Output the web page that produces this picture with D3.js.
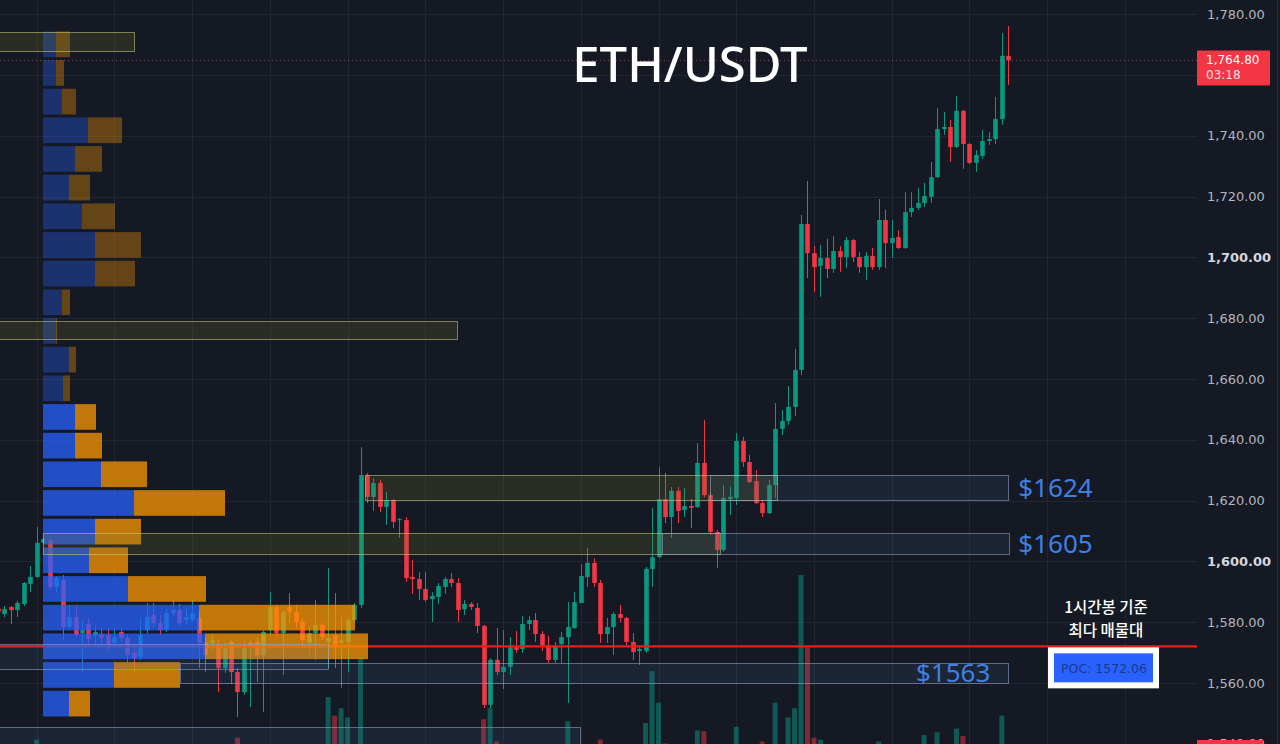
<!DOCTYPE html>
<html>
<head>
<meta charset="utf-8">
<script src="https://cdn.jsdelivr.net/npm/d3@7"></script>
<style>
html, body { margin: 0; padding: 0; background: #151924; overflow: hidden; }
svg { display: block; }
</style>
</head>
<body>
<svg id="chart" width="1280" height="744"></svg>
<script>
// 1h ETH/USDT candles, oldest first
var opens = [1584.5,1582.7,1585.0,1584.0,1586.0,1592.6,1594.9,1606.1,1607.0,1591.6,
  1593.9,1578.4,1581.7,1576.4,1579.4,1575.5,1576.1,1575.8,1573.2,1576.8,
  1574.8,1569.9,1568.6,1577.4,1582.4,1579.7,1577.4,1583.0,1584.0,1580.7,
  1580.7,1581.4,1573.2,1573.2,1572.5,1564.9,1573.5,1563.6,1557.0,1572.5,
  1573.5,1569.2,1577.4,1585.0,1576.4,1585.0,1583.4,1580.1,1573.2,1576.4,
  1579.1,1573.5,1575.8,1573.2,1573.5,1580.7,1585.7,1628.4,1621.2,1625.8,
  1617.9,1620.2,1613.6,1613.6,1594.9,1594.2,1590.9,1587.6,1588.3,1591.6,
  1594.2,1592.9,1584.3,1586.0,1584.7,1578.8,1552.8,1567.6,1563.6,1565.3,
  1571.8,1571.2,1579.4,1580.7,1576.1,1572.5,1567.6,1572.8,1575.1,1578.1,
  1586.3,1594.9,1599.5,1592.9,1576.1,1578.4,1582.7,1581.4,1573.5,1570.5,
  1570.5,1597.5,1601.4,1620.5,1614.6,1623.2,1616.9,1618.2,1617.9,1632.4,
  1621.8,1609.7,1603.8,1620.5,1620.9,1639.6,1632.7,1626.4,1619.2,1615.9,
  1625.1,1643.6,1646.2,1650.8,1663.0,1711.0,1701.4,1697.2,1699.8,1696.2,
  1702.1,1700.1,1705.7,1700.1,1696.8,1700.5,1696.8,1712.3,1704.7,1706.7,
  1703.1,1714.9,1716.3,1717.9,1719.9,1726.4,1742.2,1742.9,1736.3,1748.2,
  1737.3,1731.1,1733.4,1738.3,1738.9,1745.5,1766.3];
var highs = [1585.5,1585.3,1585.3,1587.0,1593.2,1598.5,1611.3,1608.0,1608.0,1595.2,
  1595.5,1585.7,1585.7,1580.7,1581.4,1579.1,1578.1,1578.1,1578.1,1578.1,
  1575.8,1572.5,1581.4,1586.3,1586.3,1582.4,1584.7,1587.3,1586.0,1585.0,
  1587.3,1583.4,1575.1,1575.8,1574.1,1573.5,1574.1,1564.9,1573.8,1574.1,
  1574.8,1577.4,1589.9,1585.7,1584.0,1589.6,1585.7,1581.4,1578.4,1587.3,
  1579.7,1597.8,1589.6,1581.7,1581.4,1586.3,1637.6,1629.1,1627.4,1626.8,
  1622.8,1620.5,1614.3,1614.6,1600.5,1596.5,1596.5,1589.9,1592.9,1594.9,
  1596.2,1594.5,1587.3,1586.6,1586.3,1579.1,1568.2,1578.1,1577.4,1575.1,
  1577.1,1582.0,1582.0,1583.0,1577.1,1575.5,1573.5,1576.8,1586.6,1589.9,
  1599.1,1604.4,1601.1,1593.9,1581.4,1583.4,1585.7,1581.7,1576.4,1571.8,
  1598.2,1617.6,1631.1,1629.1,1624.5,1624.5,1624.1,1620.5,1638.9,1646.5,
  1622.5,1610.3,1625.1,1624.5,1642.2,1640.9,1635.0,1630.1,1620.2,1626.8,
  1652.1,1649.8,1657.7,1669.9,1714.0,1725.1,1703.8,1704.1,1706.1,1707.0,
  1703.8,1706.7,1706.1,1701.8,1701.8,1703.1,1719.2,1715.6,1712.3,1709.0,
  1721.5,1721.5,1722.8,1724.5,1731.4,1749.1,1747.8,1745.2,1753.1,1748.5,
  1737.6,1735.3,1741.9,1741.2,1752.8,1773.8,1776.1];
var lows = [1582.5,1581.7,1579.4,1581.7,1585.3,1589.9,1594.6,1605.7,1590.6,1589.9,
  1574.1,1577.4,1575.1,1563.6,1572.5,1572.5,1571.5,1570.9,1571.5,1573.5,
  1566.9,1563.3,1567.6,1576.4,1578.1,1575.8,1576.8,1582.0,1578.8,1579.1,
  1580.1,1564.9,1563.6,1570.9,1557.0,1563.3,1559.7,1548.8,1556.1,1552.1,
  1560.3,1550.5,1575.8,1575.5,1562.6,1579.7,1578.1,1571.8,1569.2,1567.6,
  1574.1,1564.9,1564.9,1558.4,1563.6,1580.1,1584.7,1619.2,1616.6,1616.3,
  1612.0,1611.0,1607.7,1593.2,1589.3,1587.3,1586.6,1580.1,1586.0,1589.3,
  1591.6,1580.1,1582.4,1584.0,1576.4,1551.8,1551.8,1562.6,1558.0,1562.6,
  1569.9,1569.9,1577.4,1573.5,1570.5,1566.6,1566.6,1566.6,1553.4,1577.8,
  1586.3,1591.6,1591.6,1573.2,1573.2,1569.2,1580.1,1572.5,1567.6,1565.9,
  1569.9,1591.6,1601.1,1612.6,1607.7,1612.6,1614.6,1611.0,1617.6,1621.2,
  1608.7,1597.8,1603.1,1615.3,1618.6,1631.1,1625.8,1618.9,1614.6,1615.6,
  1620.9,1641.6,1644.9,1647.8,1661.3,1693.2,1688.6,1687.0,1693.2,1694.9,
  1695.2,1696.5,1698.5,1694.9,1692.6,1695.9,1695.9,1696.5,1699.8,1702.8,
  1702.8,1713.3,1715.6,1716.6,1717.9,1726.1,1740.3,1731.4,1736.0,1729.1,
  1730.7,1728.1,1732.4,1737.0,1737.3,1743.6,1756.7];
var closes = [1583.5,1584.3,1584.0,1586.3,1592.9,1594.9,1606.1,1607.4,1591.6,1594.5,
  1578.4,1581.7,1575.8,1577.4,1574.5,1576.8,1574.8,1572.5,1575.1,1574.8,
  1569.2,1568.2,1575.8,1581.7,1579.7,1577.4,1583.0,1584.0,1579.7,1581.7,
  1583.0,1573.2,1569.2,1574.1,1564.9,1571.5,1563.6,1557.0,1571.5,1573.2,
  1569.2,1576.8,1585.0,1576.4,1583.4,1583.4,1580.1,1574.1,1576.4,1579.1,
  1575.1,1574.8,1571.8,1574.1,1580.7,1585.7,1628.4,1621.2,1625.8,1617.9,
  1620.2,1613.0,1613.9,1594.5,1594.2,1590.9,1587.3,1588.6,1591.9,1594.2,
  1592.9,1584.0,1586.0,1585.0,1578.8,1552.8,1567.6,1563.6,1565.3,1571.8,
  1570.9,1579.4,1580.7,1576.1,1572.5,1567.6,1572.2,1575.1,1578.4,1586.6,
  1595.2,1599.5,1592.9,1576.1,1578.4,1582.7,1581.4,1573.5,1570.2,1571.2,
  1597.5,1601.4,1620.5,1614.6,1623.2,1616.6,1618.2,1617.6,1632.4,1621.8,
  1609.7,1603.8,1620.9,1621.2,1639.6,1632.7,1626.1,1619.2,1615.9,1625.1,
  1643.6,1646.2,1650.8,1663.0,1711.0,1701.4,1696.8,1699.8,1696.2,1702.1,
  1700.1,1705.7,1700.1,1696.8,1700.5,1696.8,1712.3,1704.7,1706.4,1703.1,
  1714.9,1716.3,1717.9,1720.2,1726.4,1742.2,1742.9,1736.3,1748.2,1737.3,
  1731.1,1733.7,1738.3,1738.9,1745.5,1766.3,1764.8];
var volumes = [6,5,4,6,7,6,11,5,7,6,
  7,5,6,4,5,3,4,5,4,3,
  5,4,6,5,4,3,5,4,5,3,
  4,7,6,3,7,5,6,12,7,8,
  5,8,7,6,7,5,4,6,4,7,
  5,34,24,28,23,6,55,8,6,7,
  5,6,4,8,5,6,5,7,4,5,
  3,6,4,3,5,22,28,10,8,6,
  5,7,4,5,6,7,5,6,21,7,
  8,7,6,11,6,7,4,6,5,4,
  20,48,31,9,7,6,4,5,16,15.5,
  7,8,6,4,18,6,5,7,10,6,
  31,7,23,28,100,61,12,11,8,7,
  6,7,5,6,5,4,10,8,5,4,
  7,6,5,13.5,8,15,6,7,17,13,
  6,5,7,4,8,24,6];

// volume profile, rows from the bottom (buy / sell, thousands)
var profileBase = 1548.5, profileStep = 9.43;
var profileUp   = [2.6,7.1,16.2,15.6,8.5,4.6,5.2,9.1,5.8,3.2,3.2,2.0,2.6,1.3,1.9,5.2,5.2,3.9,2.6,3.2,4.5,1.9,1.3,1.3];
var profileDown = [2.1,6.6,16.3,15.6,7.8,3.9,4.6,9.1,4.6,2.7,2.1,0.7,0.7,0.1,0.8,4.0,4.6,3.3,2.1,2.7,3.4,1.4,0.8,1.4];
var valueAreaLow = 0, valueAreaHigh = 10;
var poc = 1572.06;
var lastPrice = 1764.80, countdown = "03:18";

// zones: price range and candle span
var zoneHigh = [1774.1, 1679.1, 1628.4, 1609.3, 1628.4, 1609.3, 1572.7, 1566.6, 1545.5];
var zoneLow  = [1767.9, 1673.2, 1620.2, 1602.4, 1620.2, 1602.4, 1564.5, 1560.0, 1534.0];
var zoneFrom = [-1, -1, 56.7, 7, 110, 102.5, -1, 28.1, -1];
var zoneTo   = [21, 71, 120.3, 111.5, 156, 156, 51, 156, 90];
var zoneKind = ["y", "y", "y", "y", "b", "b", "b", "b", "b"];
var zoneLabels = ["$1624", "$1605", "$1563"];
var zoneLabelFor = [4, 5, 7];

var priceTicks = [1540,1560,1580,1600,1620,1640,1660,1680,1700,1720,1740,1760,1780];
var hiddenTicks = [1760];   // covered by the last price tag
var boldTicks = [1600, 1700];
var timeGrid = [6,18,30,42,54,66,78,90,102,114,126,138,150,162,174];

var W = 1280, H = 744, plotRight = 1197;
var upColor = "#089981", downColor = "#f23645";

var svg = d3.select("#chart");
var x = d3.scaleLinear().domain([0, opens.length - 1]).range([-2.2, 1008.3]);
var y = d3.scaleLinear().domain([1560, 1780]).range([683, 14.2]);
var yVol = d3.scaleLinear().domain([0, 100]).range([760, 575]);
var wProf = d3.scaleLinear().domain([0, 32.5]).range([0, 325]);
var profX = 43;
var fmt = d3.format(",.2f");

var bars = opens.map(function(o, i) {
  return {i: i, o: o, h: highs[i], l: lows[i], c: closes[i], v: volumes[i], up: closes[i] >= o};
});

svg.append("rect").attr("width", W).attr("height", H).attr("fill", "#151924");
svg.append("defs").append("clipPath").attr("id", "plotclip")
  .append("rect").attr("x", 0).attr("y", 0).attr("width", plotRight).attr("height", H);
var plot = svg.append("g").attr("clip-path", "url(#plotclip)");

// grid
plot.append("g").selectAll("line").data(priceTicks).enter().append("line")
  .attr("x1", 0).attr("x2", plotRight)
  .attr("y1", function(d) { return Math.round(y(d)) + 0.5; })
  .attr("y2", function(d) { return Math.round(y(d)) + 0.5; })
  .attr("stroke", "#222632");
plot.append("g").selectAll("line").data(timeGrid).enter().append("line")
  .attr("y1", 0).attr("y2", H)
  .attr("x1", function(d) { return Math.round(x(d)) + 0.5; })
  .attr("x2", function(d) { return Math.round(x(d)) + 0.5; })
  .attr("stroke", "#222632");

// volume
plot.append("g").selectAll("rect").data(bars).enter().append("rect")
  .attr("x", function(d) { return x(d.i) - 2.5; })
  .attr("width", 5)
  .attr("y", function(d) { return yVol(d.v); })
  .attr("height", function(d) { return yVol(0) - yVol(d.v); })
  .attr("fill", function(d) { return d.up ? upColor : downColor; })
  .attr("fill-opacity", 0.5);

// candles
var candle = plot.append("g").selectAll("g").data(bars).enter().append("g");
candle.append("line")
  .attr("x1", function(d) { return Math.round(x(d.i)) + 0.5; })
  .attr("x2", function(d) { return Math.round(x(d.i)) + 0.5; })
  .attr("y1", function(d) { return y(d.h); })
  .attr("y2", function(d) { return y(d.l); })
  .attr("stroke", function(d) { return d.up ? upColor : downColor; });
candle.append("rect")
  .attr("x", function(d) { return Math.round(x(d.i)) - 1.8; })
  .attr("width", 4.6)
  .attr("y", function(d) { return y(Math.max(d.o, d.c)); })
  .attr("height", function(d) { return Math.max(1, Math.abs(y(d.o) - y(d.c))); })
  .attr("fill", function(d) { return d.up ? upColor : downColor; });

// POC and last price lines
plot.append("line").attr("x1", 0).attr("x2", plotRight)
  .attr("y1", y(poc)).attr("y2", y(poc))
  .attr("stroke", "#e61f1c").attr("stroke-width", 2.2);
plot.append("line").attr("x1", 0).attr("x2", plotRight)
  .attr("y1", Math.round(y(lastPrice)) + 0.5).attr("y2", Math.round(y(lastPrice)) + 0.5)
  .attr("stroke", "#e0707a").attr("stroke-opacity", 0.55).attr("stroke-dasharray", "1,3");

// volume profile
var rows = profileUp.map(function(u, k) {
  return {k: k, up: u, down: profileDown[k], lo: profileBase + k * profileStep, hi: profileBase + (k + 1) * profileStep,
    inVA: k >= valueAreaLow && k <= valueAreaHigh};
});
var prow = plot.append("g").selectAll("g").data(rows).enter().append("g")
  .attr("opacity", function(d) { return d.inVA ? 0.74 : 0.34; });
prow.append("rect")
  .attr("x", profX)
  .attr("y", function(d) { return y(d.hi) + 1.5; })
  .attr("width", function(d) { return wProf(d.up); })
  .attr("height", function(d) { return y(d.lo) - y(d.hi) - 3; })
  .attr("fill", "#2962ff");
prow.append("rect")
  .attr("x", function(d) { return profX + wProf(d.up); })
  .attr("y", function(d) { return y(d.hi) + 1.5; })
  .attr("width", function(d) { return wProf(d.down); })
  .attr("height", function(d) { return y(d.lo) - y(d.hi) - 3; })
  .attr("fill", "#ff9800");

// zones
var zones = zoneHigh.map(function(h, i) {
  return {hi: h, lo: zoneLow[i], from: zoneFrom[i], to: zoneTo[i], kind: zoneKind[i]};
});
plot.append("g").selectAll("rect").data(zones).enter().append("rect")
  .attr("x", function(d) { return Math.round(x(d.from)) + 0.5; })
  .attr("y", function(d) { return Math.round(y(d.hi)) + 0.5; })
  .attr("width", function(d) { return Math.round(x(d.to) - x(d.from)); })
  .attr("height", function(d) { return Math.round(y(d.lo) - y(d.hi)); })
  .attr("fill", function(d) { return d.kind == "y" ? "rgba(125,125,45,0.2)" : "rgba(70,110,170,0.14)"; })
  .attr("stroke", function(d) { return d.kind == "y" ? "rgba(205,205,120,0.55)" : "rgba(150,170,200,0.55)"; })
  .attr("stroke-width", 1);

// zone labels
zoneLabels.forEach(function(t, j) {
  var z = zones[zoneLabelFor[j]];
  var inside = j == 2;
  svg.append("text")
    .attr("x", inside ? x(z.to) - 18 : x(z.to) + 10)
    .attr("y", y((z.hi + z.lo) / 2))
    .attr("dy", "0.36em")
    .attr("text-anchor", inside ? "end" : "start")
    .attr("font-family", "Noto Sans, sans-serif")
    .attr("font-size", 26)
    .attr("fill", "#3f80e6")
    .text(t);
});

// title
svg.append("text").attr("x", 690).attr("y", 82)
  .attr("text-anchor", "middle")
  .attr("font-family", "Noto Sans, sans-serif").attr("font-size", 49).attr("font-weight", 500)
  .attr("fill", "#ffffff").text("ETH/USDT");

// annotation
var note = ["1시간봉 기준", "최다 매물대"];
svg.selectAll(".note").data(note).enter().append("text")
  .attr("x", 1106)
  .attr("y", function(d, i) { return 613 + i * 22.5; })
  .attr("text-anchor", "middle")
  .attr("font-family", "Noto Sans CJK KR, sans-serif").attr("font-size", 15.5).attr("font-weight", 500)
  .attr("fill", "#ffffff").text(function(d) { return d; });
svg.append("rect").attr("x", 1048).attr("y", y(poc) + 1).attr("width", 111).attr("height", 41).attr("fill", "#ffffff");
svg.append("rect").attr("x", 1054).attr("y", y(poc) + 7).attr("width", 99).attr("height", 29).attr("fill", "#2962ff");
svg.append("text").attr("x", 1104).attr("y", y(poc) + 22).attr("dy", "0.35em")
  .attr("text-anchor", "middle")
  .attr("font-family", "DejaVu Sans, sans-serif").attr("font-size", 12.5)
  .attr("fill", "#183a8c").text("POC: " + d3.format(".2f")(poc));

// price axis
var labelTicks = priceTicks.filter(function(d) { return hiddenTicks.indexOf(d) < 0; });
svg.selectAll(".tick").data(labelTicks).enter().append("text")
  .attr("x", 1207)
  .attr("y", function(d) { return y(d); })
  .attr("dy", "0.36em")
  .attr("font-family", "DejaVu Sans, sans-serif").attr("font-size", 13)
  .attr("font-weight", function(d) { return boldTicks.indexOf(d) >= 0 ? "bold" : "normal"; })
  .attr("fill", function(d) { return boldTicks.indexOf(d) >= 0 ? "#d6d8de" : "#b2b5be"; })
  .text(function(d) { return fmt(d); });

var yl = y(lastPrice);
svg.append("rect").attr("x", 1197).attr("y", yl - 10).attr("width", 73).attr("height", 35)
  .attr("rx", 1).attr("fill", downColor);
svg.append("text").attr("x", 1206).attr("y", yl - 0.5).attr("dy", "0.36em")
  .attr("font-family", "DejaVu Sans, sans-serif").attr("font-size", 12)
  .attr("fill", "#ffffff").text(fmt(lastPrice));
svg.append("text").attr("x", 1206).attr("y", yl + 14.5).attr("dy", "0.36em")
  .attr("font-family", "DejaVu Sans, sans-serif").attr("font-size", 12)
  .attr("fill", "#ffe0e2").text(countdown);

// lower price tag, cut by the window
svg.append("rect").attr("x", 1197).attr("y", 740).attr("width", 66).attr("height", 18).attr("fill", downColor);
svg.append("line").attr("x1", 1277.5).attr("x2", 1277.5).attr("y1", 0).attr("y2", H).attr("stroke", "#2a2e39");
</script>
</body>
</html>
